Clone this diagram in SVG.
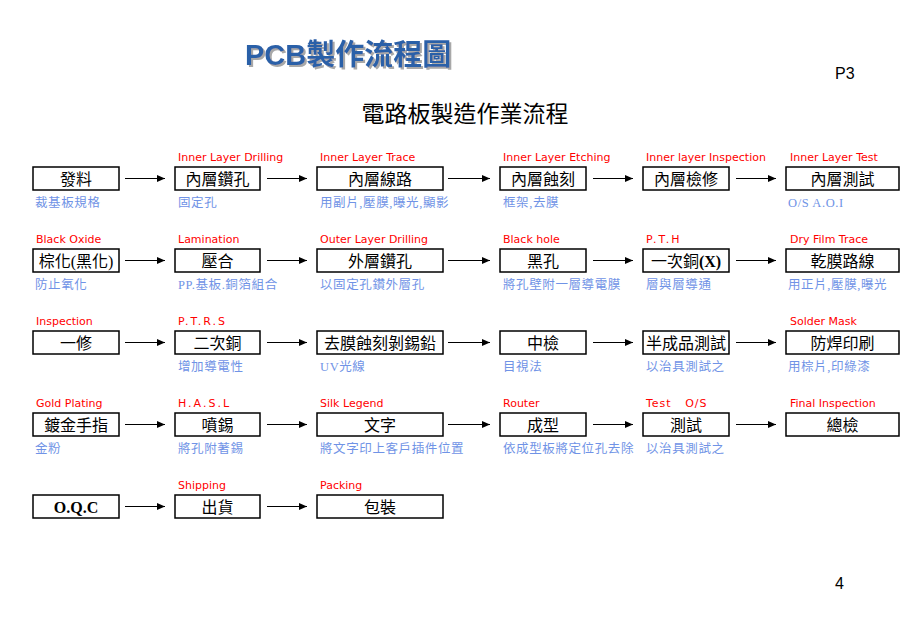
<svg xmlns="http://www.w3.org/2000/svg" width="920" height="625" viewBox="0 0 920 625">
<defs>
<marker id="ah" markerWidth="9" markerHeight="8" refX="8" refY="3.5" orient="auto" markerUnits="userSpaceOnUse">
<path d="M0,0 L8,3.5 L0,7 z" fill="#000"/>
</marker>
<filter id="sh" x="-5%" y="-20%" width="115%" height="150%">
<feFlood flood-color="#a8a8a8"/>
<feComposite in2="SourceAlpha" operator="in"/>
<feOffset dx="2" dy="2" result="s"/>
<feMerge><feMergeNode in="s"/><feMergeNode in="SourceGraphic"/></feMerge>
</filter>
</defs>
<style>
.box{fill:#fff;stroke:#000;stroke-width:1.5}
.bt{font-family:"Liberation Serif","Noto Sans CJK TC",serif;font-size:16px;fill:#000;text-anchor:middle}
.lab{font-family:"DejaVu Sans","Liberation Sans",sans-serif;font-size:11px;fill:#ff0000}
.dot{letter-spacing:2px}
.sub{font-family:"Liberation Serif","Noto Sans CJK TC",serif;font-size:12.5px;fill:#7093e6;letter-spacing:0.6px}
.arr{stroke:#000;stroke-width:1;fill:none;marker-end:url(#ah)}
</style>
<rect width="920" height="625" fill="#fff"/>
<g id="title">
<text x="245" y="65" filter="url(#sh)" font-family="Liberation Sans,'Noto Sans CJK TC',sans-serif" font-weight="bold" font-size="29" fill="#2c60a8">PCB製作流程圖</text>
</g>
<text x="835" y="79" font-family="Liberation Sans,sans-serif" font-size="16" fill="#000">P3</text>
<text x="465" y="122" font-family="Liberation Serif,'Noto Sans CJK TC',serif" font-size="23" fill="#000" text-anchor="middle">電路板製造作業流程</text>
<text x="835" y="589" font-family="Liberation Sans,sans-serif" font-size="16" fill="#000">4</text>

<g id="connectors">
<line class="arr" x1="125" y1="178.5" x2="165" y2="178.5"/>
<line class="arr" x1="267" y1="178.5" x2="307" y2="178.5"/>
<line class="arr" x1="448" y1="178.5" x2="490" y2="178.5"/>
<line class="arr" x1="593" y1="178.5" x2="633" y2="178.5"/>
<line class="arr" x1="736" y1="178.5" x2="776" y2="178.5"/>
<line class="arr" x1="125" y1="260.5" x2="165" y2="260.5"/>
<line class="arr" x1="267" y1="260.5" x2="307" y2="260.5"/>
<line class="arr" x1="448" y1="260.5" x2="490" y2="260.5"/>
<line class="arr" x1="593" y1="260.5" x2="633" y2="260.5"/>
<line class="arr" x1="736" y1="260.5" x2="776" y2="260.5"/>
<line class="arr" x1="125" y1="342.5" x2="165" y2="342.5"/>
<line class="arr" x1="267" y1="342.5" x2="307" y2="342.5"/>
<line class="arr" x1="448" y1="342.5" x2="490" y2="342.5"/>
<line class="arr" x1="593" y1="342.5" x2="633" y2="342.5"/>
<line class="arr" x1="736" y1="342.5" x2="776" y2="342.5"/>
<line class="arr" x1="125" y1="424.5" x2="165" y2="424.5"/>
<line class="arr" x1="267" y1="424.5" x2="307" y2="424.5"/>
<line class="arr" x1="448" y1="424.5" x2="490" y2="424.5"/>
<line class="arr" x1="593" y1="424.5" x2="633" y2="424.5"/>
<line class="arr" x1="736" y1="424.5" x2="776" y2="424.5"/>
<line class="arr" x1="125" y1="506.5" x2="165" y2="506.5"/>
<line class="arr" x1="267" y1="506.5" x2="307" y2="506.5"/>
</g>

<!-- Row 1 -->
<g id="n1"><rect class="box" x="33" y="167" width="86" height="23"/><text class="bt" x="76" y="185">發料</text><text class="sub" x="35" y="207">裁基板規格</text></g>
<g id="n2"><text class="lab" x="178" y="161">Inner Layer Drilling</text><rect class="box" x="175" y="167" width="85" height="23"/><text class="bt" x="217.5" y="185">內層鑽孔</text><text class="sub" x="178" y="207">固定孔</text></g>
<g id="n3"><text class="lab" x="320" y="161">Inner Layer Trace</text><rect class="box" x="317" y="167" width="126" height="23"/><text class="bt" x="380" y="185">內層線路</text><text class="sub" x="320" y="207">用副片,壓膜,曝光,顯影</text></g>
<g id="n4"><text class="lab" x="503" y="161">Inner Layer Etching</text><rect class="box" x="500" y="167" width="86" height="23"/><text class="bt" x="543" y="185">內層蝕刻</text><text class="sub" x="503" y="207">框架,去膜</text></g>
<g id="n5"><text class="lab" x="646" y="161">Inner layer Inspection</text><rect class="box" x="643" y="167" width="86" height="23"/><text class="bt" x="686" y="185">內層檢修</text></g>
<g id="n6"><text class="lab" x="790" y="161">Inner Layer Test</text><rect class="box" x="786" y="167" width="113" height="23"/><text class="bt" x="842.5" y="185">內層測試</text><text class="sub" x="788" y="207" letter-spacing="1.5">O/S A.O.I</text></g>

<!-- Row 2 -->
<g id="n7"><text class="lab" x="36" y="243">Black Oxide</text><rect class="box" x="33" y="249" width="86" height="23"/><text class="bt" x="76" y="267">棕化(黑化)</text><text class="sub" x="35" y="289">防止氧化</text></g>
<g id="n8"><text class="lab" x="178" y="243">Lamination</text><rect class="box" x="175" y="249" width="85" height="23"/><text class="bt" x="217.5" y="267">壓合</text><text class="sub" x="178" y="289">PP.基板.銅箔組合</text></g>
<g id="n9"><text class="lab" x="320" y="243">Outer Layer Drilling</text><rect class="box" x="317" y="249" width="126" height="23"/><text class="bt" x="380" y="267">外層鑽孔</text><text class="sub" x="320" y="289">以固定孔鑽外層孔</text></g>
<g id="n10"><text class="lab" x="503" y="243">Black hole</text><rect class="box" x="500" y="249" width="86" height="23"/><text class="bt" x="543" y="267">黑孔</text><text class="sub" x="503" y="289">將孔壁附一層導電膜</text></g>
<g id="n11"><text class="lab dot" x="646" y="243">P.T.H</text><rect class="box" x="643" y="249" width="86" height="23"/><text class="bt" x="686" y="267">一次銅<tspan font-weight="bold">(X)</tspan></text><text class="sub" x="646" y="289">層與層導通</text></g>
<g id="n12"><text class="lab" x="790" y="243">Dry Film Trace</text><rect class="box" x="786" y="249" width="113" height="23"/><text class="bt" x="842.5" y="267">乾膜路線</text><text class="sub" x="788" y="289">用正片,壓膜,曝光</text></g>

<!-- Row 3 -->
<g id="n13"><text class="lab" x="36" y="325">Inspection</text><rect class="box" x="33" y="331" width="86" height="23"/><text class="bt" x="76" y="349">一修</text></g>
<g id="n14"><text class="lab dot" x="178" y="325">P.T.R.S</text><rect class="box" x="175" y="331" width="85" height="23"/><text class="bt" x="217.5" y="349">二次銅</text><text class="sub" x="178" y="371">增加導電性</text></g>
<g id="n15"><rect class="box" x="317" y="331" width="126" height="23"/><text class="bt" x="380" y="349">去膜蝕刻剝錫鉛</text><text class="sub" x="320" y="371">UV光線</text></g>
<g id="n16"><rect class="box" x="500" y="331" width="86" height="23"/><text class="bt" x="543" y="349">中檢</text><text class="sub" x="503" y="371">目視法</text></g>
<g id="n17"><rect class="box" x="643" y="331" width="86" height="23"/><text class="bt" x="686" y="349">半成品測試</text><text class="sub" x="646" y="371">以治具測試之</text></g>
<g id="n18"><text class="lab" x="790" y="325">Solder Mask</text><rect class="box" x="786" y="331" width="113" height="23"/><text class="bt" x="842.5" y="349">防焊印刷</text><text class="sub" x="788" y="371">用棕片,印綠漆</text></g>

<!-- Row 4 -->
<g id="n19"><text class="lab" x="36" y="407">Gold Plating</text><rect class="box" x="33" y="413" width="86" height="23"/><text class="bt" x="76" y="431">鍍金手指</text><text class="sub" x="35" y="453">金粉</text></g>
<g id="n20"><text class="lab dot" x="178" y="407">H.A.S.L</text><rect class="box" x="175" y="413" width="85" height="23"/><text class="bt" x="217.5" y="431">噴錫</text><text class="sub" x="178" y="453">將孔附著錫</text></g>
<g id="n21"><text class="lab" x="320" y="407">Silk Legend</text><rect class="box" x="317" y="413" width="126" height="23"/><text class="bt" x="380" y="431">文字</text><text class="sub" x="320" y="453">將文字印上客戶插件位置</text></g>
<g id="n22"><text class="lab" x="503" y="407">Router</text><rect class="box" x="500" y="413" width="86" height="23"/><text class="bt" x="543" y="431">成型</text><text class="sub" x="503" y="453">依成型板將定位孔去除</text></g>
<g id="n23"><text class="lab" x="646" y="407" letter-spacing="1" xml:space="preserve">Test   O/S</text><rect class="box" x="643" y="413" width="86" height="23"/><text class="bt" x="686" y="431">測試</text><text class="sub" x="646" y="453">以治具測試之</text></g>
<g id="n24"><text class="lab" x="790" y="407">Final Inspection</text><rect class="box" x="786" y="413" width="113" height="23"/><text class="bt" x="842.5" y="431">總檢</text></g>

<!-- Row 5 -->
<g id="n25"><rect class="box" x="33" y="495" width="86" height="23"/><text class="bt" x="76" y="513" font-weight="bold" font-size="15">O.Q.C</text></g>
<g id="n26"><text class="lab" x="178" y="489">Shipping</text><rect class="box" x="175" y="495" width="85" height="23"/><text class="bt" x="217.5" y="513">出貨</text></g>
<g id="n27"><text class="lab" x="320" y="489">Packing</text><rect class="box" x="317" y="495" width="126" height="23"/><text class="bt" x="380" y="513">包裝</text></g>
</svg>
